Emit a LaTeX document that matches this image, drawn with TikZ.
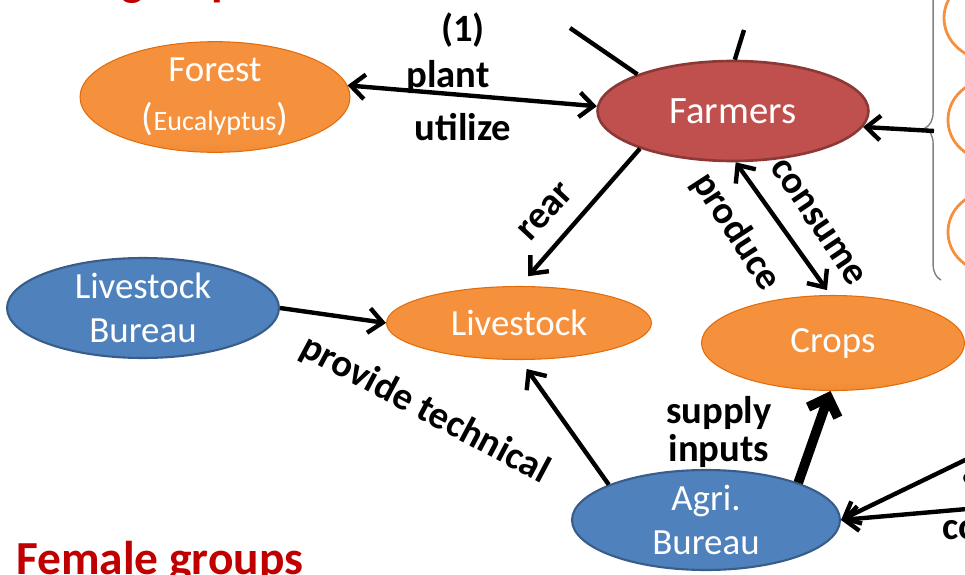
\documentclass[tikz,border=0pt]{standalone}
\usepackage{fontspec}
\setmainfont{Carlito}
\usetikzlibrary{arrows.meta,shapes.geometric,decorations.pathreplacing}

\definecolor{orangeMain}{HTML}{F5913C}
\definecolor{orangeLight}{HTML}{FBBA7C}
\definecolor{orangeDark}{HTML}{E36C0A}
\definecolor{farmRed}{HTML}{C0504D}
\definecolor{farmRedLine}{HTML}{8C3836}
\definecolor{bureauBlue}{HTML}{4F81BD}
\definecolor{bureauLine}{HTML}{385D8A}
\definecolor{groupRed}{HTML}{C00000}

\pgfdeclareverticalshading{orangeglow}{100bp}{
  color(0bp)=(orangeDark); color(30bp)=(orangeMain);
  color(82bp)=(orangeMain); color(100bp)=(orangeLight)}

\begin{document}
\begin{tikzpicture}[
    x=0.02cm, y=-0.02cm,
    actor/.style={ellipse,inner sep=0pt,text=white,align=center,
        font=\fontsize{21}{25}\selectfont},
    resource/.style={actor,draw=orangeDark,line width=0.6pt,shading=orangeglow},
    bureau/.style={actor,draw=bureauLine,line width=1.2pt,fill=bureauBlue},
    farmer/.style={actor,draw=farmRedLine,line width=1.5pt,fill=farmRed},
    flow/.style={line width=2.5pt,-{Straight Barb[length=8pt,width=14pt]}},
    bothflow/.style={line width=2.5pt,{Straight Barb[length=8pt,width=14pt]}-{Straight Barb[length=8pt,width=14pt]}},
    link/.style={line width=2.5pt},
    tag/.style={font=\bfseries\fontsize{22}{24}\selectfont,align=center},
    group/.style={font=\bfseries\fontsize{27}{30}\selectfont,text=groupRed},
    member/.style={draw=orangeMain,line width=1.6pt}
]
\useasboundingbox (0,0) rectangle (965,575);
\clip (0,0) rectangle (965,575);

% Group titles
\node[group,anchor=base west] (male) at (4,-5) {Male groups};
\node[group,anchor=base west] (female) at (10,574) {Female groups};
\node[tag] (one) at (463,30) {(1)};

% Actors
\node[farmer,minimum width=5.42cm,minimum height=2cm] (farmers) at (733,111)
    {\fontsize{22}{26}\selectfont Farmers};
\node[resource,minimum width=5.4cm,minimum height=1.76cm] (forest) at (215,97)
    {Forest\\[3pt]{\fontsize{22}{22}\selectfont(}{\fontsize{16}{18}\selectfont Eucalyptus}{\fontsize{22}{22}\selectfont)}};
\node[bureau,minimum width=5.44cm,minimum height=2cm] (livbureau) at (143,308)
    {Livestock\\Bureau};
\node[resource,minimum width=5.3cm,minimum height=1.46cm] (livestock) at (519,323)
    {Livestock};
\node[resource,minimum width=5.26cm,minimum height=1.9cm] (crops) at (833,343)
    {Crops};
\node[bureau,minimum width=5.36cm,minimum height=2cm] (agri) at (706,520)
    {Agri.\\Bureau};

% Off-picture ends
\coordinate (topA) at (570,28);
\coordinate (topB) at (744,30);
\coordinate (rightA) at (990,448);
\coordinate (rightB) at (990,507);
\coordinate (braceTip) at (934,131);

% Members behind the brace
\draw[member] (990,18) ellipse (46 and 42);
\draw[member] (990,120) ellipse (42 and 40);
\draw[member] (990,232) ellipse (42 and 40);
\draw[gray,line width=0.8pt,decorate,decoration={brace,amplitude=9}]
    (941,280) -- (941,-24);

% Connectors
\draw[link] (topA) -- (farmers.159);
\draw[link] (topB) -- (farmers.88);
\draw[bothflow] (forest.5) -- (farmers.178);
\draw[flow,shorten >=0.26cm] (farmers.202) -- (livestock.89);
\draw[bothflow,shorten >=0.12cm] (farmers.-87) -- (crops.93);
\draw[flow] (braceTip) -- (farmers.-7);
\draw[flow] (livbureau.east) -- (livestock.west);
\draw[flow,shorten >=0.22cm] (agri.160) -- (livestock.-88);
\draw[line width=5.5pt,-{Straight Barb[length=9pt,width=18pt]}] (agri.22) -- (crops.-93);
\draw[flow] (rightA) -- (agri.east);
\draw[flow] (rightB) -- (agri.east);

% Labels
\node[tag] (plant) at (448,77) {plant};
\node[tag] (utilize) at (463,127) {utilize};
\node[tag,rotate=47] (rear) at (546,212) {rear};
\node[tag,rotate=-57] (produce) at (736,232) {produce};
\node[tag,rotate=-56] (consume) at (818,222) {consume};
\node[tag,rotate=-28] (technical) at (425,410) {provide technical};
\node[tag,align=center] (supply) at (719,432) {supply\\[-2pt]inputs};
\node[tag,anchor=west] (co) at (936,530) {co};
\node[tag,anchor=west,rotate=25] (s) at (959,488) {s};

\end{tikzpicture}
\end{document}
